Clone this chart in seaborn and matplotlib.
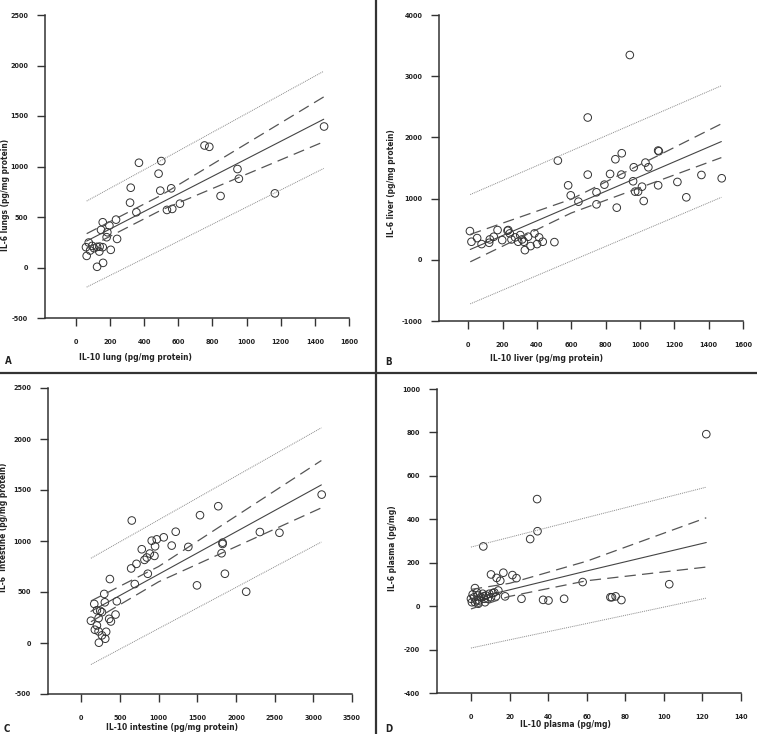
import numpy as np
import pandas as pd
import matplotlib
matplotlib.use("Agg")
import matplotlib.pyplot as plt
import seaborn as sns

# ---- panel A: lungs ----
lung_il10 = [1454, 754, 782, 370, 501, 485, 322, 495, 559, 318, 355, 534, 565, 610,
             947, 955, 848, 1166, 158, 236, 197, 148, 185, 181, 242, 205, 76, 60, 64,
             125, 140, 96, 158, 138, 84, 125, 160, 107]
lung_il6 = [1396, 1208, 1195, 1037, 1054, 929, 790, 761, 784, 642, 547, 570, 580, 632,
            975, 879, 708, 734, 448, 474, 415, 372, 349, 300, 283, 175, 247, 201, 115,
            204, 207, 214, 201, 158, 168, 7, 46, 191]
lung_line_x = [64, 500, 1452]
lung_fit = [262, 641, 1468]
lung_ci_hi = [335, 715, 1689]
lung_ci_lo = [190, 568, 1245]
lung_pi_hi = [658, 1060, 1943]
lung_pi_lo = [-194, 174, 981]

# ---- panel B: liver ----
liver_il10 = [941, 696, 522, 582, 597, 642, 696, 747, 747, 793, 826, 857, 894, 892,
              865, 964, 960, 972, 989, 1012, 1022, 1032, 1049, 1106, 1110, 1106, 1218,
              1270, 1358, 1476, 10, 19, 52, 78, 126, 149, 171, 198, 229, 233, 252, 273,
              303, 314, 324, 330, 349, 363, 386, 401, 434, 502, 122, 291, 242, 413]
liver_il6 = [3346, 2325, 1621, 1217, 1053, 950, 1392, 1103, 906, 1228, 1403, 1643, 1741,
             1392, 852, 1512, 1283, 1114, 1114, 1195, 961, 1588, 1512, 1785, 1774, 1217,
             1272, 1021, 1386, 1332, 469, 295, 355, 257, 333, 377, 486, 322, 475, 486,
             333, 366, 404, 333, 295, 158, 377, 224, 431, 257, 295, 289, 278, 295, 431, 366]
liver_line_x = [12, 600, 1474]
liver_fit = [169, 878, 1932]
liver_ci_hi = [415, 990, 2222]
liver_ci_lo = [-33, 765, 1670]
liver_pi_hi = [1066, 1781, 2844]
liver_pi_lo = [-720, -19, 1021]

# ---- panel C: intestine ----
int_il10 = [3108, 1771, 1535, 653, 1221, 1066, 976, 911, 954, 946, 1169, 1384, 782, 817,
            847, 886, 714, 645, 860, 692, 370, 1827, 1827, 1814, 1857, 1496, 2309, 2562,
            2132, 297, 168, 305, 460, 202, 245, 267, 224, 361, 383, 443, 125, 176, 224,
            322, 267, 310, 228, 202]
int_il6 = [1455, 1341, 1253, 1201, 1091, 1036, 1016, 1003, 948, 854, 955, 942, 919, 815,
           838, 877, 776, 731, 679, 578, 627, 984, 971, 880, 679, 565, 1088, 1081, 503,
           481, 383, 399, 409, 321, 315, 302, 244, 237, 211, 279, 218, 130, 114, 110, 75,
           42, 3, 172]
int_line_x = [125, 1000, 3104]
int_fit = [310, 674, 1550]
int_ci_hi = [412, 750, 1789]
int_ci_lo = [208, 600, 1325]
int_pi_hi = [831, 1207, 2110]
int_pi_lo = [-211, 142, 990]

# ---- panel D: plasma ----
plasma_il10 = [122, 34.3, 34.5, 30.7, 6.4, 57.9, 102.8, 10.4, 16.8, 13.3, 15.2, 21.5, 23.6,
               2.1, 26.2, 37.4, 40.2, 48.3, 72.3, 73.1, 75.0, 78.0, 17.7, 12.1, 0, 0.5, 1.7,
               2.9, 3.5, 4.3, 5.2, 6.1, 6.9, 7.8, 8.7, 9.5, 10.4, 11.3, 13.0, 14.2, 2.1, 3.8,
               7.3, 6.6, 3.1, 0.9]
plasma_il6 = [792, 493, 345, 309, 275, 111, 101, 146, 154, 130, 117, 143, 129, 83, 34, 29,
              26, 34, 41, 41, 45, 28, 45, 63, 34, 18, 41, 26, 49, 26, 41, 57, 34, 49, 34, 57,
              41, 60, 45, 72, 18, 11, 18, 45, 63, 54]
plasma_line_x = [0, 20, 60, 122]
plasma_fit = [32, 75, 162, 293]
plasma_ci_hi = [77, 105, 207, 407]
plasma_ci_lo = [-13, 45, 117, 180]
plasma_pi_hi = [272, 317, 408, 548]
plasma_pi_lo = [-193, -155, -80, 37]

panels = [
    dict(letter="A", x=lung_il10, y=lung_il6, lx=lung_line_x, fit=lung_fit,
         ci=(lung_ci_hi, lung_ci_lo), pi=(lung_pi_hi, lung_pi_lo),
         rect=(45, 318, 304, 303), xlim=(-180, 1600), ylim=(-500, 2500),
         xt=np.arange(0, 1601, 200), yt=np.arange(-500, 2501, 500),
         xlabel="IL-10 lung (pg/mg protein)", ylabel="IL-6 lungs (pg/mg protein)",
         xlc=(0.296, -0.129), ylc=(-0.13, 0.406), lpos=(5, 361)),
    dict(letter="B", x=liver_il10, y=liver_il6, lx=liver_line_x, fit=liver_fit,
         ci=(liver_ci_hi, liver_ci_lo), pi=(liver_pi_hi, liver_pi_lo),
         rect=(439, 321, 304, 306), xlim=(-170, 1600), ylim=(-1000, 4000),
         xt=np.arange(0, 1601, 200), yt=np.arange(-1000, 4001, 1000),
         xlabel="IL-10 liver (pg/mg protein)", ylabel="IL-6 liver (pg/mg protein)",
         xlc=(0.355, -0.121), ylc=(-0.155, 0.451), lpos=(385, 362)),
    dict(letter="C", x=int_il10, y=int_il6, lx=int_line_x, fit=int_fit,
         ci=(int_ci_hi, int_ci_lo), pi=(int_pi_hi, int_pi_lo),
         rect=(48, 694, 304, 306), xlim=(-430, 3500), ylim=(-500, 2500),
         xt=np.arange(0, 3501, 500), yt=np.arange(-500, 2501, 500),
         xlabel="IL-10 intestine (pg/mg protein)", ylabel="IL-6  intestine (pg/mg protein)",
         xlc=(0.408, -0.111), ylc=(-0.145, 0.546), lpos=(4, 729)),
    dict(letter="D", x=plasma_il10, y=plasma_il6, lx=plasma_line_x, fit=plasma_fit,
         ci=(plasma_ci_hi, plasma_ci_lo), pi=(plasma_pi_hi, plasma_pi_lo),
         rect=(437, 693, 304, 304), xlim=(-17.6, 140), ylim=(-400, 1000),
         xt=np.arange(0, 141, 20), yt=np.arange(-400, 1001, 200),
         xlabel="IL-10 plasma (pg/mg)", ylabel="IL-6 plasma (pg/mg)",
         xlc=(0.424, -0.105), ylc=(-0.145, 0.477), lpos=(385, 729)),
]

W, H = 757, 734
sns.set_style("ticks")
plt.rcParams["font.family"] = ["DejaVu Sans"]
plt.rcParams["font.stretch"] = "condensed"
plt.rcParams["axes.unicode_minus"] = False

fig = plt.figure(figsize=(W / 100, H / 100), dpi=100)
fig.patch.set_facecolor("white")

ink = "#333333"
for p in panels:
    l, b, w, h = p["rect"]
    ax = fig.add_axes([l / W, 1 - b / H, w / W, h / H])
    df = pd.DataFrame({"x": p["x"], "y": p["y"]})
    sns.scatterplot(data=df, x="x", y="y", ax=ax, s=30, facecolor="none",
                    edgecolor=ink, linewidth=0.7, marker="o")
    lines = pd.DataFrame({"x": p["lx"], "fit": p["fit"], "ci_hi": p["ci"][0],
                          "ci_lo": p["ci"][1], "pi_hi": p["pi"][0], "pi_lo": p["pi"][1]})
    sns.lineplot(data=lines, x="x", y="fit", ax=ax, color="#444444", lw=0.8,
                 estimator=None, sort=False)
    for col in ("ci_hi", "ci_lo"):
        sns.lineplot(data=lines, x="x", y=col, ax=ax, color="#555555", lw=0.9,
                     estimator=None, sort=False, linestyle=(0, (9, 5)))
    for col in ("pi_hi", "pi_lo"):
        sns.lineplot(data=lines, x="x", y=col, ax=ax, color="#888888", lw=0.7,
                     estimator=None, sort=False, linestyle=(0, (1, 1)))
    ax.set_xlim(*p["xlim"])
    ax.set_ylim(*p["ylim"])
    ax.set_xticks(p["xt"])
    ax.set_yticks(p["yt"])
    ax.tick_params(direction="out", length=6, width=1, color=ink,
                   labelsize=5.2, labelcolor="#222222")
    ax.tick_params(axis="x", pad=9)
    ax.tick_params(axis="y", pad=6)
    for t in ax.get_xticklabels() + ax.get_yticklabels():
        t.set_fontweight("bold")
    sns.despine(ax=ax)
    for s in ("left", "bottom"):
        ax.spines[s].set_color(ink)
        ax.spines[s].set_linewidth(1.1)
    ax.set_xlabel(p["xlabel"], fontsize=6, fontweight="bold", color="#222222")
    ax.set_ylabel(p["ylabel"], fontsize=6, fontweight="bold", color="#222222")
    ax.xaxis.set_label_coords(*p["xlc"])
    ax.yaxis.set_label_coords(*p["ylc"])
    ax.xaxis.label.set_va("center")
    ax.yaxis.label.set_va("center")
    ax.set_facecolor("white")
    fig.text(p["lpos"][0] / W, 1 - p["lpos"][1] / H, p["letter"], fontsize=7,
             fontweight="bold", color="#222222", ha="left", va="center")

# panel dividers
fig.add_artist(plt.Line2D([376 / W, 376 / W], [0, 1], color="#333333", lw=1.6))
fig.add_artist(plt.Line2D([0, 1], [1 - 373 / H, 1 - 373 / H], color="#333333", lw=1.6))

fig.savefig("out.png", dpi=100, facecolor="white")
